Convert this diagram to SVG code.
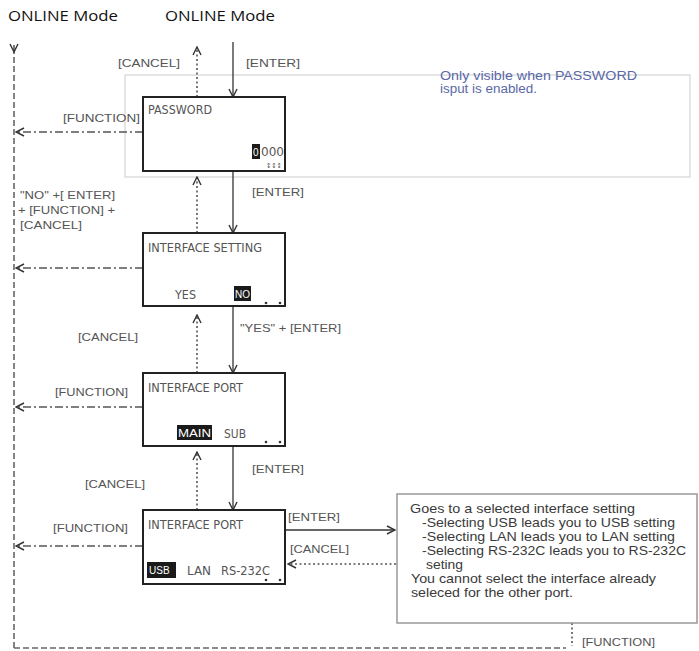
<svg xmlns="http://www.w3.org/2000/svg" width="699" height="651" viewBox="0 0 699 651">
<defs>
<marker id="open" viewBox="0 0 10 10" refX="9" refY="5" markerWidth="10" markerHeight="10" markerUnits="userSpaceOnUse" orient="auto">
<path d="M1,1 L9,5 L1,9" fill="none" stroke="#333" stroke-width="1.4"/>
</marker>
</defs>
<style>
.title{font-family:"Open Sans","Liberation Sans",sans-serif;font-size:15px;fill:#111}
.lbl{font-family:"Liberation Sans",Arial,sans-serif;font-size:11.5px;fill:#555}
.box{fill:#fff;stroke:#222;stroke-width:2}
.scr{font-family:"Liberation Sans Narrow","DejaVu Sans Condensed","Liberation Sans",sans-serif;font-size:11.5px;fill:#555}
.inv{fill:#1a1a1a}
.invt{font-family:"Liberation Sans",sans-serif;font-size:10px;fill:#fff}
.solid{stroke:#333;stroke-width:1.3;fill:none}
.dot{stroke:#555;stroke-width:1.6;stroke-dasharray:2,2.5;fill:none}
.dashdot{stroke:#555;stroke-width:1.3;stroke-dasharray:8,3,2,3;fill:none}
.dash{stroke:#666;stroke-width:1.6;stroke-dasharray:6,3;fill:none}
.note{font-family:"Liberation Sans",Arial,sans-serif;font-size:13px;fill:#3a3a3a}
.blue{font-family:"Liberation Sans",Arial,sans-serif;font-size:12.5px;fill:#5a68a8}
</style>
<rect width="699" height="651" fill="#fff"/>
<text class="title" x="8" y="21" textLength="110" lengthAdjust="spacingAndGlyphs">ONLINE Mode</text>
<text class="title" x="165" y="21" textLength="110" lengthAdjust="spacingAndGlyphs">ONLINE Mode</text>

<g id="password-region">
<rect x="125" y="75" width="565" height="102" fill="none" stroke="#d4d4d4" stroke-width="1.2"/>
<text class="blue" x="440" y="80" textLength="197" lengthAdjust="spacingAndGlyphs">Only visible when PASSWORD</text>
<text class="blue" x="440" y="93" textLength="97" lengthAdjust="spacingAndGlyphs">isput is enabled.</text>
</g>

<g id="connectors">
<path class="dash" d="M14,648 V50"/>
<path class="solid" d="M14,45 V52" marker-end="url(#open)"/>
<path class="dash" d="M14,648 H566"/>
<path class="dot" d="M572,623 V646"/>
<path class="dot" d="M197,97 V47" marker-end="url(#open)"/>
<path class="solid" d="M233,42 V97" marker-end="url(#open)"/>
<path class="dashdot" d="M143,132 H16" marker-end="url(#open)"/>
<path class="dot" d="M197,233 V177" marker-end="url(#open)"/>
<path class="solid" d="M233,171 V233" marker-end="url(#open)"/>
<path class="dashdot" d="M143,268 H16" marker-end="url(#open)"/>
<path class="dot" d="M197,373 V315" marker-end="url(#open)"/>
<path class="solid" d="M233,306 V373" marker-end="url(#open)"/>
<path class="dashdot" d="M143,407 H16" marker-end="url(#open)"/>
<path class="dot" d="M197,510 V452" marker-end="url(#open)"/>
<path class="solid" d="M233,446 V510" marker-end="url(#open)"/>
<path class="dashdot" d="M143,546 H16" marker-end="url(#open)"/>
<path class="solid" d="M285,530 H395" marker-end="url(#open)"/>
<path class="dot" d="M396,564 H288" marker-end="url(#open)"/>
<text class="lbl" x="118" y="67" textLength="62" lengthAdjust="spacingAndGlyphs">[CANCEL]</text>
<text class="lbl" x="246" y="67" textLength="54" lengthAdjust="spacingAndGlyphs">[ENTER]</text>
<text class="lbl" x="63" y="122" textLength="77" lengthAdjust="spacingAndGlyphs">[FUNCTION]</text>
<text class="lbl" x="252" y="196" textLength="52" lengthAdjust="spacingAndGlyphs">[ENTER]</text>
<text class="lbl" x="20" y="199" textLength="95" lengthAdjust="spacingAndGlyphs">"NO" +[ ENTER]</text>
<text class="lbl" x="18" y="214" textLength="97" lengthAdjust="spacingAndGlyphs">+ [FUNCTION] +</text>
<text class="lbl" x="20" y="229" textLength="62" lengthAdjust="spacingAndGlyphs">[CANCEL]</text>
<text class="lbl" x="78" y="341" textLength="60" lengthAdjust="spacingAndGlyphs">[CANCEL]</text>
<text class="lbl" x="240" y="332" textLength="101" lengthAdjust="spacingAndGlyphs">"YES" + [ENTER]</text>
<text class="lbl" x="55" y="396" textLength="73" lengthAdjust="spacingAndGlyphs">[FUNCTION]</text>
<text class="lbl" x="252" y="473" textLength="52" lengthAdjust="spacingAndGlyphs">[ENTER]</text>
<text class="lbl" x="85" y="488" textLength="60" lengthAdjust="spacingAndGlyphs">[CANCEL]</text>
<text class="lbl" x="53" y="532" textLength="75" lengthAdjust="spacingAndGlyphs">[FUNCTION]</text>
<text class="lbl" x="288" y="521" textLength="52" lengthAdjust="spacingAndGlyphs">[ENTER]</text>
<text class="lbl" x="290" y="553" textLength="59" lengthAdjust="spacingAndGlyphs">[CANCEL]</text>
<text class="lbl" x="582" y="646" textLength="73" lengthAdjust="spacingAndGlyphs">[FUNCTION]</text>
</g>

<g id="node-password">
<rect class="box" x="143" y="97" width="142" height="74"/>
<text class="scr" x="148" y="114" textLength="64" lengthAdjust="spacingAndGlyphs">PASSWORD</text>
<rect class="inv" x="252" y="144" width="8" height="15"/>
<text class="invt" x="253" y="156">0</text>
<text class="scr" x="261" y="156" textLength="23" lengthAdjust="spacingAndGlyphs">000</text>
<text class="scr" x="266" y="168" style="font-size:7px">↕↕↕</text>
</g>

<g id="node-interface-setting">
<rect class="box" x="143" y="233" width="142" height="73"/>
<text class="scr" x="148" y="252" textLength="114" lengthAdjust="spacingAndGlyphs">INTERFACE SETTING</text>
<text class="scr" x="175" y="299" textLength="21" lengthAdjust="spacingAndGlyphs">YES</text>
<rect class="inv" x="234" y="286" width="17" height="15"/>
<text class="invt" x="235" y="298">NO</text>
<circle cx="266" cy="303" r="1.3" fill="#333"/>
<circle cx="280" cy="303" r="1.3" fill="#333"/>
</g>

<g id="node-interface-port-1">
<rect class="box" x="143" y="373" width="142" height="73"/>
<text class="scr" x="148" y="392" textLength="95" lengthAdjust="spacingAndGlyphs">INTERFACE PORT</text>
<rect class="inv" x="177" y="425" width="35" height="15"/>
<text class="invt" x="178" y="437" textLength="33" lengthAdjust="spacingAndGlyphs">MAIN</text>
<text class="scr" x="224" y="438" textLength="22" lengthAdjust="spacingAndGlyphs">SUB</text>
<circle cx="266" cy="442" r="1.3" fill="#333"/>
<circle cx="280" cy="442" r="1.3" fill="#333"/>
</g>

<g id="node-interface-port-2">
<rect class="box" x="143" y="510" width="142" height="74"/>
<text class="scr" x="148" y="529" textLength="95" lengthAdjust="spacingAndGlyphs">INTERFACE PORT</text>
<rect class="inv" x="147" y="562" width="29" height="16"/>
<text class="invt" x="149" y="574">USB</text>
<text class="scr" x="187" y="575" textLength="24" lengthAdjust="spacingAndGlyphs">LAN</text>
<text class="scr" x="221" y="575" textLength="49" lengthAdjust="spacingAndGlyphs">RS-232C</text>
<circle cx="266" cy="580" r="1.3" fill="#333"/>
<circle cx="280" cy="580" r="1.3" fill="#333"/>
</g>

<g id="node-info">
<rect x="397" y="494" width="300" height="129" fill="#fff" stroke="#999" stroke-width="1.5"/>
<text class="note" x="410" y="513" textLength="225" lengthAdjust="spacingAndGlyphs">Goes to a selected interface setting</text>
<text class="note" x="422" y="527" textLength="253" lengthAdjust="spacingAndGlyphs">-Selecting USB leads you to USB setting</text>
<text class="note" x="422" y="541" textLength="253" lengthAdjust="spacingAndGlyphs">-Selecting LAN leads you to LAN setting</text>
<text class="note" x="422" y="555" textLength="264" lengthAdjust="spacingAndGlyphs">-Selecting RS-232C leads you to RS-232C</text>
<text class="note" x="426" y="569" textLength="37" lengthAdjust="spacingAndGlyphs">seting</text>
<text class="note" x="411" y="583" textLength="245" lengthAdjust="spacingAndGlyphs">You cannot select the interface already</text>
<text class="note" x="411" y="597" textLength="162" lengthAdjust="spacingAndGlyphs">seleced for the other port.</text>
</g>
</svg>
